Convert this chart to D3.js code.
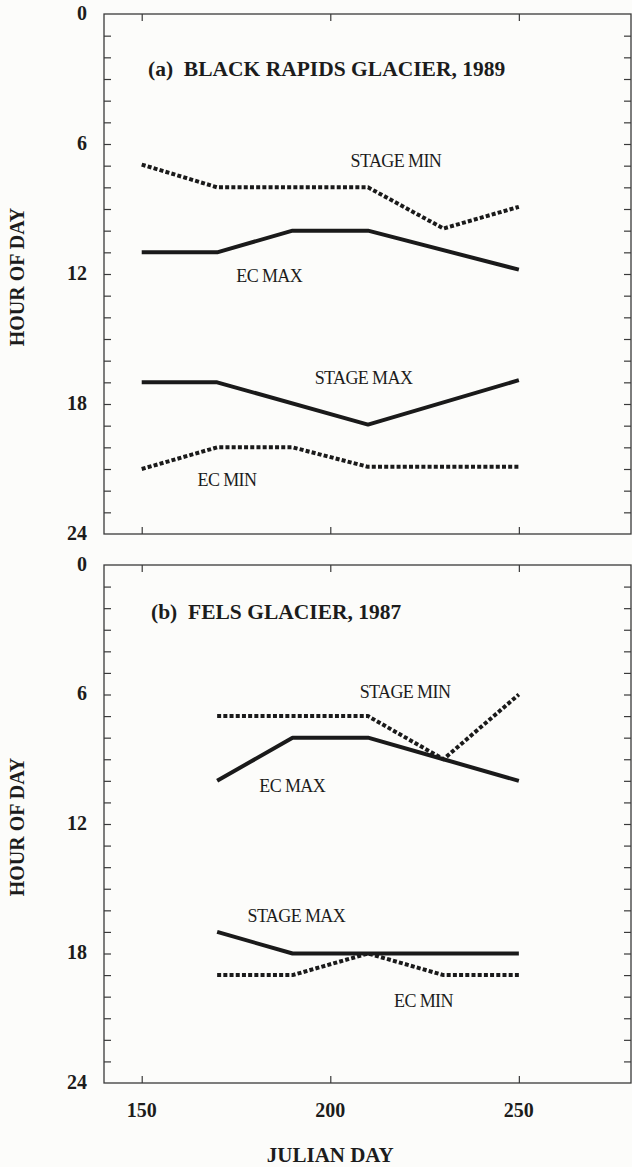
<!DOCTYPE html>
<html>
<head>
<meta charset="utf-8">
<script src="https://cdn.jsdelivr.net/npm/d3@7"></script>
<style>
  html, body { margin: 0; padding: 0; background: #fcfcfa; }
  svg { display: block; }
  text { font-family: "Liberation Serif", "Times New Roman", serif; fill: #1c1c1c; }
</style>
</head>
<body>
<script>
// Timing of daily extremes (hour of day) against Julian day
const dayTicks = [150, 200, 250];
const hourTicks = [0, 6, 12, 18, 24];

// (a) Black Rapids Glacier, 1989
const aStageMinDays = [150, 170, 210, 230, 250];
const aStageMinHours = [6.95, 8.0, 8.0, 9.9, 8.9];
const aEcMaxDays = [150, 170, 190, 210, 250];
const aEcMaxHours = [11.0, 11.0, 10.0, 10.0, 11.8];
const aStageMaxDays = [150, 170, 210, 250];
const aStageMaxHours = [17.0, 17.0, 18.95, 16.9];
const aEcMinDays = [150, 170, 190, 210, 250];
const aEcMinHours = [21.0, 20.0, 20.0, 20.9, 20.9];

// (b) Fels Glacier, 1987
const bStageMinDays = [170, 210, 230, 250];
const bStageMinHours = [7.0, 7.0, 9.0, 6.0];
const bEcMaxDays = [170, 190, 210, 230, 250];
const bEcMaxHours = [10.0, 8.0, 8.0, 9.0, 10.0];
const bStageMaxDays = [170, 190, 250];
const bStageMaxHours = [17.0, 18.0, 18.0];
const bEcMinDays = [170, 190, 210, 230, 250];
const bEcMinHours = [19.0, 19.0, 18.0, 19.0, 19.0];

const W = 632, H = 1167;
const svg = d3.select("body").append("svg").attr("width", W).attr("height", H);

const x = d3.scaleLinear().domain([140, 280]).range([104, 632]);

function zip(days, hours) { return days.map((d, i) => ({ d, h: hours[i] })); }

const panels = [
  {
    title: "(a)\u00a0\u00a0BLACK RAPIDS GLACIER, 1989",
    titlePos: [148, 76],
    range: [14, 534],
    series: [
      { name: "STAGE MIN", pts: zip(aStageMinDays, aStageMinHours), dotted: true, lab: [217.4, 7.06] },
      { name: "EC MAX", pts: zip(aEcMaxDays, aEcMaxHours), dotted: false, lab: [183.8, 12.37] },
      { name: "STAGE MAX", pts: zip(aStageMaxDays, aStageMaxHours), dotted: false, lab: [208.8, 17.08] },
      { name: "EC MIN", pts: zip(aEcMinDays, aEcMinHours), dotted: true, lab: [172.6, 21.78] }
    ]
  },
  {
    title: "(b)\u00a0\u00a0FELS GLACIER, 1987",
    titlePos: [151, 619],
    range: [565, 1083],
    series: [
      { name: "STAGE MIN", pts: zip(bStageMinDays, bStageMinHours), dotted: true, lab: [219.8, 6.16] },
      { name: "EC MAX", pts: zip(bEcMaxDays, bEcMaxHours), dotted: false, lab: [189.9, 10.52] },
      { name: "STAGE MAX", pts: zip(bStageMaxDays, bStageMaxHours), dotted: false, lab: [191.0, 16.54] },
      { name: "EC MIN", pts: zip(bEcMinDays, bEcMinHours), dotted: true, lab: [224.7, 20.48] }
    ],
    xAxis: true
  }
];

const frame = "#3a3a3a";

panels.forEach(p => {
  const y = d3.scaleLinear().domain([0, 24]).range(p.range);
  const g = svg.append("g");
  const [x0, x1] = x.range();
  const [y0, y1] = p.range;

  // frame
  g.append("rect")
    .attr("x", x0).attr("y", y0)
    .attr("width", x1 - x0 - 1).attr("height", y1 - y0)
    .attr("fill", "none").attr("stroke", frame).attr("stroke-width", 1.3);

  // hourly ticks, inward on both sides
  const hours = d3.range(1, 24);
  const left = d3.axisRight(y).tickValues(hours).tickSize(7).tickFormat("");
  const right = d3.axisLeft(y).tickValues(hours).tickSize(7).tickFormat("");
  g.append("g").attr("transform", `translate(${x0},0)`).call(left);
  g.append("g").attr("transform", `translate(${x1 - 1},0)`).call(right);

  // day ticks, inward on top and bottom
  const top = d3.axisBottom(x).tickValues(dayTicks).tickSize(7).tickFormat("");
  const bottom = d3.axisTop(x).tickValues(dayTicks).tickSize(7).tickFormat("");
  g.append("g").attr("transform", `translate(0,${y0})`).call(top);
  g.append("g").attr("transform", `translate(0,${y1})`).call(bottom);

  g.selectAll(".domain").remove();
  g.selectAll(".tick line").attr("stroke", frame).attr("stroke-width", 1.2);

  // hour labels
  g.selectAll("text.hl").data(hourTicks).join("text")
    .attr("class", "hl")
    .attr("x", 87).attr("y", d => y(d) + 1)
    .attr("text-anchor", "end").attr("dominant-baseline", "middle")
    .style("font-size", "20px").style("font-weight", "bold")
    .text(d => d);

  // y axis title
  g.append("text")
    .attr("transform", `translate(24,${(y0 + y1) / 2 + 3}) rotate(-90)`)
    .attr("text-anchor", "middle")
    .style("font-size", "20px").style("font-weight", "bold")
    .text("HOUR OF DAY");

  // panel title
  g.append("text")
    .attr("x", p.titlePos[0]).attr("y", p.titlePos[1])
    .style("font-size", "21.5px").style("font-weight", "bold")
    .text(p.title);

  // series lines
  const line = d3.line().x(d => x(d.d)).y(d => y(d.h));
  p.series.forEach(s => {
    g.append("path")
      .attr("d", line(s.pts))
      .attr("fill", "none")
      .attr("stroke", "#1a1a1a")
      .attr("stroke-width", 4)
      .attr("stroke-linejoin", "round")
      .attr("stroke-dasharray", s.dotted ? "4,2.2" : null);
    g.append("text")
      .attr("x", x(s.lab[0])).attr("y", y(s.lab[1]))
      .attr("text-anchor", "middle")
      .style("font-size", "18px").style("letter-spacing", "-0.6px")
      .text(s.name);
  });

  if (p.xAxis) {
    g.selectAll("text.dl").data(dayTicks).join("text")
      .attr("class", "dl")
      .attr("x", d => x(d)).attr("y", 1117)
      .attr("text-anchor", "middle")
      .style("font-size", "20px").style("font-weight", "bold")
      .text(d => d);
    g.append("text")
      .attr("x", x(200)).attr("y", 1162)
      .attr("text-anchor", "middle")
      .style("font-size", "21px").style("font-weight", "bold")
      .text("JULIAN DAY");
  }
});
</script>
</body>
</html>
